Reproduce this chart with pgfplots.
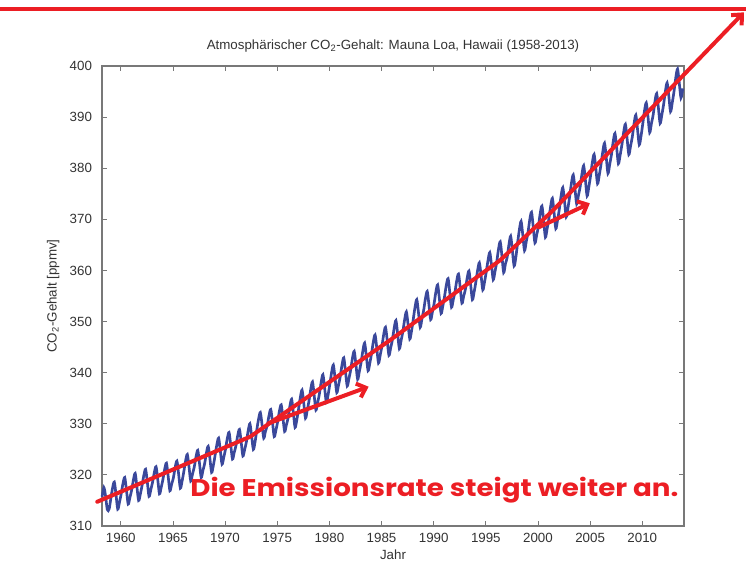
\documentclass[border=0pt]{standalone}
\usepackage{pgfplots}
\pgfplotsset{compat=1.18}
\usepackage{pgfplotstable}
\usepackage{graphicx}
\usepackage{fontspec}
\setmainfont{Liberation Sans}
\newfontfamily\handfont{Poppins}
\usetikzlibrary{arrows.meta}

\definecolor{annotred}{RGB}{236,30,36}
\definecolor{keeling}{RGB}{58,72,155}
\definecolor{axgray}{RGB}{120,120,120}

% Mauna Loa CO2, bimonthly (Jan, Mar, May, Jul, Sep, Nov), ppmv
\pgfplotstableread{
t co2
1958.21 315.7
1958.38 317.5
1958.54 315.9
1958.71 313.2
1958.88 313.3
1959.04 315.3
1959.21 317.4
1959.38 318.6
1959.54 316.2
1959.71 313.3
1959.88 314.7
1960.04 316.3
1960.21 318.3
1960.38 319.5
1960.54 317.1
1960.71 314.3
1960.88 315.6
1961.04 317.0
1961.21 319.0
1961.38 320.3
1961.54 317.8
1961.71 315.0
1961.88 316.3
1962.04 317.9
1962.21 319.9
1962.38 321.1
1962.54 318.7
1962.71 315.8
1962.88 317.1
1963.04 318.5
1963.21 320.4
1963.38 321.6
1963.54 319.2
1963.71 316.3
1963.88 317.6
1964.04 319.1
1964.21 321.1
1964.38 322.3
1964.54 319.8
1964.71 316.9
1964.88 318.2
1965.04 319.4
1965.21 321.4
1965.38 322.7
1965.54 320.3
1965.71 317.4
1965.88 318.8
1966.04 320.6
1966.21 322.7
1966.38 324.0
1966.54 321.6
1966.71 318.8
1966.88 320.2
1967.04 321.5
1967.21 323.5
1967.38 324.8
1967.54 322.4
1967.71 319.5
1967.88 320.9
1968.04 322.2
1968.21 324.3
1968.38 325.6
1968.54 323.3
1968.71 320.5
1968.88 321.9
1969.04 323.8
1969.21 325.9
1969.38 327.2
1969.54 324.8
1969.71 322.1
1969.88 323.5
1970.04 325.0
1970.21 327.1
1970.38 328.3
1970.54 325.9
1970.71 323.1
1970.88 324.4
1971.04 325.7
1971.21 327.7
1971.38 328.9
1971.54 326.5
1971.71 323.7
1971.88 325.0
1972.04 326.4
1972.21 328.6
1972.38 330.0
1972.54 327.7
1972.71 325.0
1972.88 326.5
1973.04 328.8
1973.21 330.9
1973.38 332.2
1973.54 329.9
1973.71 327.2
1973.88 328.6
1974.04 329.6
1974.21 331.6
1974.38 332.8
1974.54 330.4
1974.71 327.5
1974.88 328.8
1975.04 330.4
1975.21 332.5
1975.38 333.7
1975.54 331.3
1975.71 328.5
1975.88 329.8
1976.04 331.1
1976.21 333.4
1976.38 334.8
1976.54 332.3
1976.71 329.3
1976.88 330.8
1977.04 332.8
1977.21 335.1
1977.38 336.6
1977.54 334.1
1977.71 331.1
1977.88 332.7
1978.04 334.4
1978.21 336.7
1978.38 338.2
1978.54 335.6
1978.71 332.7
1978.88 334.2
1979.04 335.8
1979.21 338.1
1979.38 339.6
1979.54 337.1
1979.71 334.2
1979.88 335.7
1980.04 337.7
1980.21 340.0
1980.38 341.5
1980.54 339.0
1980.71 336.1
1980.88 337.6
1981.04 339.2
1981.21 341.5
1981.38 342.9
1981.54 340.3
1981.71 337.4
1981.88 338.9
1982.04 340.5
1982.21 342.8
1982.38 344.2
1982.54 341.7
1982.71 338.7
1982.88 340.3
1983.04 342.0
1983.21 344.3
1983.38 345.8
1983.54 343.3
1983.71 340.4
1983.88 341.9
1984.04 343.7
1984.21 346.0
1984.38 347.4
1984.54 344.9
1984.71 341.9
1984.88 343.5
1985.04 345.2
1985.21 347.5
1985.38 348.9
1985.54 346.4
1985.71 343.4
1985.88 344.9
1986.04 346.4
1986.21 348.7
1986.38 350.2
1986.54 347.7
1986.71 344.7
1986.88 346.3
1987.04 348.0
1987.21 350.3
1987.38 351.9
1987.54 349.5
1987.71 346.6
1987.88 348.2
1988.04 350.4
1988.21 352.8
1988.38 354.3
1988.54 351.8
1988.71 348.9
1988.88 350.6
1989.04 352.2
1989.21 354.5
1989.38 355.9
1989.54 353.4
1989.71 350.4
1989.88 351.9
1990.04 353.5
1990.21 355.8
1990.38 357.2
1990.54 354.6
1990.71 351.6
1990.88 353.1
1991.04 354.9
1991.21 357.1
1991.38 358.4
1991.54 355.8
1991.71 352.8
1991.88 354.3
1992.04 355.8
1992.21 358.0
1992.38 359.3
1992.54 356.7
1992.71 353.6
1992.88 355.0
1993.04 356.3
1993.21 358.5
1993.38 359.9
1993.54 357.3
1993.71 354.3
1993.88 355.8
1994.04 357.7
1994.21 360.0
1994.38 361.5
1994.54 359.1
1994.71 356.2
1994.88 357.8
1995.04 359.7
1995.21 362.0
1995.38 363.5
1995.54 361.1
1995.71 358.2
1995.88 359.8
1996.04 361.6
1996.21 364.1
1996.38 365.6
1996.54 362.9
1996.71 359.6
1996.88 361.3
1997.04 362.5
1997.21 365.0
1997.38 366.7
1997.54 364.0
1997.71 360.9
1997.88 362.6
1998.04 365.3
1998.21 367.9
1998.38 369.6
1998.54 367.0
1998.71 363.9
1998.88 365.7
1999.04 367.4
1999.21 369.9
1999.38 371.4
1999.54 368.6
1999.71 365.4
1999.88 367.0
2000.04 368.6
2000.21 371.1
2000.38 372.6
2000.54 369.8
2000.71 366.5
2000.88 368.2
2001.04 370.0
2001.21 372.5
2001.38 374.1
2001.54 371.4
2001.71 368.2
2001.88 369.9
2002.04 371.9
2002.21 374.5
2002.38 376.2
2002.54 373.6
2002.71 370.5
2002.88 372.3
2003.04 374.5
2003.21 377.1
2003.38 378.7
2003.54 376.1
2003.71 373.0
2003.88 374.7
2004.04 376.3
2004.21 378.8
2004.38 380.5
2004.54 377.8
2004.71 374.6
2004.88 376.4
2005.04 378.5
2005.21 381.1
2005.38 382.7
2005.54 380.1
2005.71 377.0
2005.88 378.7
2006.04 380.7
2006.21 383.2
2006.38 384.9
2006.54 382.2
2006.71 379.0
2006.88 380.8
2007.04 382.6
2007.21 385.2
2007.38 386.8
2007.54 384.1
2007.71 380.9
2007.88 382.6
2008.04 384.5
2008.21 387.0
2008.38 388.6
2008.54 385.9
2008.71 382.7
2008.88 384.4
2009.04 386.1
2009.21 388.7
2009.38 390.4
2009.54 387.7
2009.71 384.6
2009.88 386.3
2010.04 388.6
2010.21 391.2
2010.38 392.8
2010.54 390.2
2010.71 387.0
2010.88 388.8
2011.04 390.4
2011.21 393.0
2011.38 394.6
2011.54 391.9
2011.71 388.8
2011.88 390.5
2012.04 392.4
2012.21 395.0
2012.38 396.7
2012.54 394.2
2012.71 391.1
2012.88 392.9
2013.04 395.0
2013.21 397.7
2013.38 399.4
2013.54 396.8
2013.71 393.8
2013.88 395.6
}\maunaloa

\begin{document}
\begin{tikzpicture}
\path[use as bounding box] (0pt,0pt) rectangle (559.5pt,-436.5pt);
\begin{axis}[
  at={(76.5pt,-394.5pt)}, anchor=south west,
  scale only axis, width=436.5pt, height=345pt,
  xmin=1958.2, xmax=2014, ymin=310, ymax=400,
  xtick={1960,1965,...,2010},
  ytick={310,320,...,400},
  tick align=inside, tick pos=both,
  major tick length=4pt,
  tick style={axgray, line width=0.6pt},
  axis line style={axgray, line width=0.8pt},
  /pgf/number format/assume math mode=true,
  /pgf/number format/1000 sep={},
  ticklabel style={font=\fontsize{10}{12}\selectfont, text=black!80},
  xticklabel style={yshift=-1.5pt},
  yticklabel style={xshift=-4pt},
  title={Atmosph\"arischer CO\textsubscript{2}-Gehalt: Mauna Loa, Hawaii (1958-2013)},
  title style={at={(0.5,1)}, anchor=base, yshift=6.5pt,
    font=\fontsize{10}{12}\selectfont, text=black!80},
  xlabel={Jahr},
  xlabel style={at={(0.5,0)}, anchor=base, yshift=-25pt,
    font=\fontsize{10}{12}\selectfont, text=black!80},
  ylabel={CO\textsubscript{2}-Gehalt [ppmv]},
  ylabel style={at={(axis description cs:-0.084,0.5)}, anchor=center,
    font=\fontsize{10}{12}\selectfont, text=black!80},
  clip=false,
]
\addplot[keeling, line width=2pt, smooth, tension=0.5] table[x=t, y=co2] {\maunaloa};

% hand-drawn trend curve and rate arrows
\draw[annotred, line width=3pt, line join=round, line cap=round,
      -{Straight Barb[length=6pt,width=11pt,line width=3pt]}]
  (axis cs:1957.75,314.75) -- (axis cs:1972.40,327.47) -- (axis cs:1985.84,346.39)
  -- (axis cs:1996.40,362.04) -- (axis cs:2001.48,371.83) -- (axis cs:2019.75,410.5);
\draw[annotred, line width=3pt, line cap=round,
      -{Straight Barb[length=6pt,width=11pt,line width=3pt]}]
  (axis cs:1974.16,330.09) -- (axis cs:1983.76,337.25);
\draw[annotred, line width=3pt, line cap=round,
      -{Straight Barb[length=6pt,width=11pt,line width=3pt]}]
  (axis cs:2000.07,368.44) -- (axis cs:2004.97,373.14);
\node[anchor=base west, inner sep=0pt, text=annotred] at (axis cs:1966.65,315.87)
  {\resizebox{366pt}{14.5pt}{\handfont\bfseries Die Emissionsrate steigt weiter an.}};
\end{axis}
\draw[annotred, line width=3pt] (0pt,-7pt) -- (559.5pt,-7pt);
\end{tikzpicture}
\end{document}
